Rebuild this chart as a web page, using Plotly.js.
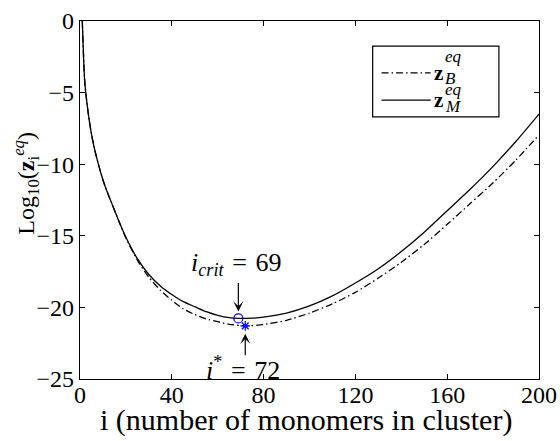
<!DOCTYPE html>
<html>
<head>
<meta charset="utf-8">
<script src="https://cdn.plot.ly/plotly-3.0.1.min.js"></script>
<style>html,body{margin:0;padding:0;background:#fff;}#chart{width:560px;height:441px;}</style>
</head>
<body>
<div id="chart"></div>
<script>
// cluster sizes and log10 equilibrium concentrations
const iM = [1,2,3,4,5,6,8,10,12,14,17,20,25,30,35,40,45,50,55,60,65,69,75,80,90,100,110,120,130,140,150,160,170,180,190,200];
const zM = [0,-4.1,-5.7,-6.9,-7.9,-8.7,-10.0,-11.1,-12.0,-12.8,-14.0,-15.1,-16.6,-17.7,-18.5,-19.1,-19.6,-19.95,-20.3,-20.55,-20.72,-20.77,-20.75,-20.68,-20.4,-19.9,-19.2,-18.3,-17.3,-16.1,-14.75,-13.25,-11.75,-10.15,-8.4,-6.5];
const iB = [1,2,3,4,5,6,8,10,12,14,17,20,25,30,35,40,45,50,55,60,65,72,80,90,100,110,120,130,140,150,160,170,180,190,200];
const zB = [0,-4.1,-5.7,-6.9,-7.9,-8.7,-10.0,-11.1,-12.0,-12.8,-14.0,-15.15,-16.7,-17.9,-18.8,-19.5,-20.1,-20.5,-20.8,-21.0,-21.18,-21.29,-21.2,-20.9,-20.4,-19.75,-18.95,-17.95,-16.85,-15.6,-14.2,-12.75,-11.3,-9.7,-7.95];
const iCrit = [69], zCrit = [-20.77];
const iStar = [72], zStar = [-21.29];
const xTicks = [0,40,80,120,160,200];
const yTicks = [0,-5,-10,-15,-20,-25];

const FONT = '"Liberation Serif", "Times New Roman", serif';
const SP = '\u2004';

const traces = [
  {x: iB, y: zB, mode: 'lines', name: 'z_B^eq', line: {color: '#000', width: 1.3, dash: '7px,3px,1.5px,3px', shape: 'spline', smoothing: 0.6}},
  {x: iM, y: zM, mode: 'lines', name: 'z_M^eq', line: {color: '#000', width: 1.3, shape: 'spline', smoothing: 0.6}},
  {x: iCrit, y: zCrit, mode: 'markers', name: 'i_crit', marker: {symbol: 'circle-open', size: 9, color: '#0000ff', line: {width: 1.2}}},
  {x: iStar, y: zStar, mode: 'markers', name: 'i*', marker: {symbol: 'asterisk-open', size: 8, color: '#0000ff', line: {width: 1.2, color: '#0000ff'}}}
];

function txt(x, y, text, size, extra) {
  return Object.assign({x: x, y: y, xref: 'paper', yref: 'paper', text: text, showarrow: false,
    xanchor: 'center', yanchor: 'middle', font: {family: FONT, size: size, color: '#000'}}, extra || {});
}

const layout = {
  width: 560, height: 441,
  margin: {l: 80, r: 21, t: 21, b: 62},
  paper_bgcolor: '#fff', plot_bgcolor: '#fff',
  showlegend: false,
  font: {family: FONT, color: '#000'},
  xaxis: {
    range: [0, 200], tickvals: xTicks, ticktext: xTicks.map(String),
    ticks: 'inside', ticklen: 5, tickcolor: '#000', mirror: 'allticks',
    showline: true, linecolor: '#000', linewidth: 1.2,
    showgrid: false, zeroline: false, ticklabelstandoff: -6,
    tickfont: {family: FONT, size: 24, color: '#000'},
    automargin: false
  },
  yaxis: {
    range: [-25, 0], tickvals: yTicks, ticktext: yTicks.map(v => v === 0 ? '0' : '\u2212' + Math.abs(v)),
    ticks: 'inside', ticklen: 5, tickcolor: '#000', mirror: 'allticks',
    showline: true, linecolor: '#000', linewidth: 1.2,
    showgrid: false, zeroline: false,
    tickfont: {family: FONT, size: 24, color: '#000'},
    automargin: false
  },
  shapes: [
    {type: 'rect', xref: 'paper', yref: 'paper', x0: 0.6376, x1: 0.9127, y0: 0.732, y1: 0.930, line: {color: '#000', width: 1.2}, fillcolor: '#fff'},
    {type: 'line', xref: 'paper', yref: 'paper', x0: 0.657, x1: 0.764, y0: 0.855, y1: 0.855, line: {color: '#000', width: 1.3, dash: '7px,3px,1.5px,3px'}},
    {type: 'line', xref: 'paper', yref: 'paper', x0: 0.657, x1: 0.764, y0: 0.779, y1: 0.779, line: {color: '#000', width: 1.3}}
  ],
  annotations: [
    // axis titles
    txt(0.4934, -0.115, 'i (number of monomers in cluster)', 30),
    txt(-0.118, 0.548, 'Log<sub>10</sub>(<b>z</b><sub>i</sub><sup><i>eq</i></sup>)', 24, {textangle: -90}),
    // arrows
    {x: iCrit[0], y: zCrit[0], xref: 'x', yref: 'y', text: '', showarrow: true, ax: 0, ay: -37, axref: 'pixel', ayref: 'pixel', standoff: 7, arrowhead: 3, arrowsize: 1.4, arrowwidth: 1.2, arrowcolor: '#000'},
    {x: iStar[0], y: zStar[0], xref: 'x', yref: 'y', text: '', showarrow: true, ax: 0, ay: 31, axref: 'pixel', ayref: 'pixel', standoff: 8, arrowhead: 3, arrowsize: 1.4, arrowwidth: 1.2, arrowcolor: '#000'},
    // labels
    {x: 68.1, y: -17.0, xref: 'x', yref: 'y', text: '<i>i</i><sub><i>crit</i></sub>' + SP + '=' + SP + '69', showarrow: false, font: {family: FONT, size: 26, color: '#000'}},
    {x: 71.2, y: -24.3, xref: 'x', yref: 'y', text: '<i>i</i><sup>*</sup>' + SP + '=' + SP + '72', showarrow: false, font: {family: FONT, size: 26, color: '#000'}},
    // legend text
    txt(0.766, 0.855, 'z', 21, {xanchor: 'left', font: {family: FONT, size: 21, color: '#000', weight: 'bold'}}),
    txt(0.790, 0.900, 'eq', 17, {xanchor: 'left', font: {family: FONT, size: 17, color: '#000', style: 'italic'}}),
    txt(0.790, 0.840, 'B', 17, {xanchor: 'left', font: {family: FONT, size: 17, color: '#000', style: 'italic'}}),
    txt(0.766, 0.779, 'z', 21, {xanchor: 'left', font: {family: FONT, size: 21, color: '#000', weight: 'bold'}}),
    txt(0.790, 0.808, 'eq', 17, {xanchor: 'left', font: {family: FONT, size: 17, color: '#000', style: 'italic'}}),
    txt(0.790, 0.760, 'M', 17, {xanchor: 'left', font: {family: FONT, size: 17, color: '#000', style: 'italic'}})
  ]
};

Plotly.newPlot('chart', traces, layout, {staticPlot: true, displayModeBar: false});
</script>
</body>
</html>
